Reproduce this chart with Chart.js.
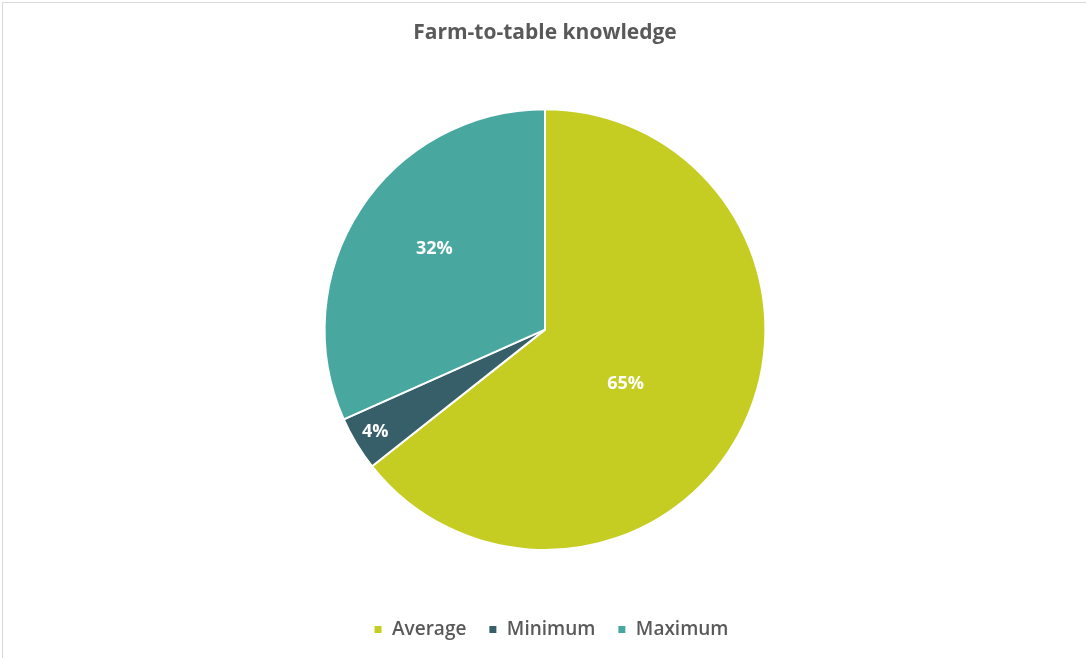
<!DOCTYPE html>
<html>
<head>
<meta charset="utf-8">
<script src="https://cdn.jsdelivr.net/npm/chart.js@4/dist/chart.umd.min.js"></script>
<style>
  html, body { margin: 0; padding: 0; background: #ffffff; }
  #wrap { position: relative; width: 1086px; height: 658px; overflow: hidden; }
  #frame { position: absolute; left: 2px; top: 2px; width: 1200px; height: 800px;
           border-left: 1px solid #d9d9d9; border-top: 1px solid #d9d9d9; pointer-events: none; }
  canvas { position: absolute; left: 0; top: 0; }
</style>
</head>
<body>
<div id="wrap">
  <canvas id="chart" width="1086" height="658"></canvas>
  <div id="frame"></div>
</div>
<script>
// Share of respondents by knowledge level
const categories = ['Average', 'Minimum', 'Maximum'];
const shares = [65, 4, 32];
const sliceColors = ['#C5CD22', '#375F69', '#48A8A0'];
const chartTitle = 'Farm-to-table knowledge';

// Places a white percentage label inside each slice
const sliceLabels = {
  id: 'sliceLabels',
  afterDatasetsDraw(chart, args, opts) {
    const { ctx } = chart;
    const meta = chart.getDatasetMeta(0);
    ctx.save();
    ctx.font = opts.font;
    ctx.fillStyle = opts.color;
    ctx.textAlign = 'center';
    ctx.textBaseline = 'middle';
    meta.data.forEach((arc, i) => {
      const p = arc.getProps(['x', 'y', 'startAngle', 'endAngle', 'outerRadius'], true);
      const place = opts.placement[i];
      const mid = (p.startAngle + p.endAngle) / 2 + place.shift * Math.PI / 180;
      const r = p.outerRadius * place.radius;
      const value = chart.data.datasets[0].data[i];
      ctx.fillText(value + '%', p.x + Math.cos(mid) * r, p.y + Math.sin(mid) * r);
    });
    ctx.restore();
  }
};

// Nudges the legend row sideways after layout
const legendNudge = {
  id: 'legendNudge',
  afterLayout(chart, args, opts) {
    if (chart.legend) {
      chart.legend.left += opts.dx;
      chart.legend.right += opts.dx;
    }
  }
};

new Chart(document.getElementById('chart'), {
  type: 'pie',
  data: {
    labels: categories,
    datasets: [{
      data: shares,
      backgroundColor: sliceColors,
      borderColor: '#ffffff',
      borderWidth: 2
    }]
  },
  options: {
    responsive: false,
    animation: false,
    events: [],
    layout: { padding: { left: 4, right: 0, top: 0, bottom: 9 } },
    plugins: {
      title: {
        display: true,
        text: chartTitle,
        color: '#595959',
        font: { family: 'Open Sans', size: 21, weight: 'bold' },
        padding: { top: 20, bottom: 63 }
      },
      legend: {
        position: 'bottom',
        title: {
          display: true,
          text: '',
          font: { size: 10 },
          padding: { top: 35, bottom: 0 }
        },
        labels: {
          color: '#595959',
          font: { family: 'Open Sans', size: 19, weight: '600' },
          boxWidth: 9,
          boxHeight: 9,
          padding: 22
        }
      },
      legendNudge: { dx: 6 },
      tooltip: { enabled: false },
      sliceLabels: {
        font: 'bold 18px "Open Sans"',
        color: '#ffffff',
        placement: [
          { radius: 0.44, shift: 8 },
          { radius: 0.9, shift: 0 },
          { radius: 0.62, shift: 3 }
        ]
      }
    }
  },
  plugins: [sliceLabels, legendNudge]
});
</script>
</body>
</html>
